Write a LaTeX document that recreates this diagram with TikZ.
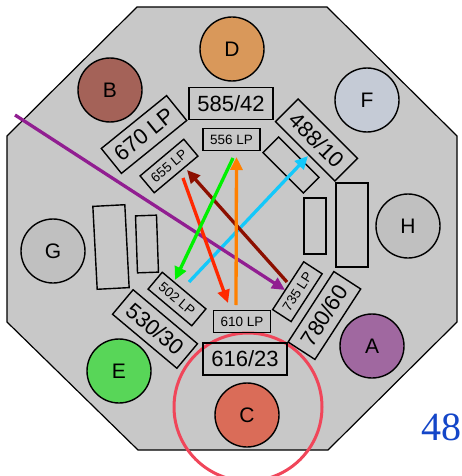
\documentclass[tikz,border=0pt]{standalone}
\usepackage{fontspec}
\setmainfont{Liberation Sans}
\newfontfamily\numserif{Liberation Serif}
\usetikzlibrary{arrows.meta}
\definecolor{plategray}{RGB}{200,200,200}
\definecolor{colD}{RGB}{217,152,90}
\definecolor{colB}{RGB}{164,98,88}
\definecolor{colF}{RGB}{197,203,214}
\definecolor{colH}{RGB}{192,192,192}
\definecolor{colG}{RGB}{192,192,192}
\definecolor{colE}{RGB}{88,214,88}
\definecolor{colC}{RGB}{218,108,88}
\definecolor{colA}{RGB}{160,104,160}
\definecolor{ringred}{RGB}{240,70,90}
\definecolor{bpurple}{RGB}{145,30,145}
\definecolor{bdarkred}{RGB}{140,15,0}
\definecolor{bred}{RGB}{255,40,0}
\definecolor{bgreen}{RGB}{0,240,0}
\definecolor{borange}{RGB}{255,128,0}
\definecolor{bcyan}{RGB}{20,200,250}
\definecolor{pageblue}{RGB}{20,70,200}
\tikzset{
  lamp/.style={circle,draw,line width=1.4pt,minimum size=64pt,inner sep=0pt,
    font=\fontsize{21}{21}\selectfont},
  filt/.style={draw,line width=1.4pt,inner sep=0pt},
  bigfilt/.style={filt,minimum width=84pt,minimum height=32pt,
    font=\fontsize{22}{22}\selectfont},
  smallfilt/.style={filt,minimum width=57pt,minimum height=22pt,
    font=\fontsize{13.5}{13.5}\selectfont},
  beam/.style={line width=3.3pt,-{Triangle[length=13pt,width=12pt]}}
}
\begin{document}
\begin{tikzpicture}[x=1pt,y=-1pt]
\useasboundingbox (0,0) rectangle (461,476);
% plate
\draw[fill=plategray,line width=1.2pt] (137,7) -- (327,7) -- (457,136) -- (457,322)
  -- (328,450) -- (138,450) -- (7,322) -- (7,136) -- cycle;
% lamps
\node[lamp,fill=colD] (d) at (232,49) {D};
\node[lamp,fill=colB] (b) at (110,90) {B};
\node[lamp,fill=colF] (f) at (367,100) {F};
\node[lamp,fill=colH] (h) at (408,226) {H};
\node[lamp,fill=colG] (g) at (53,251) {G};
\node[lamp,fill=colE] (e) at (119,371) {E};
\node[lamp,fill=colC] (c) at (247,415) {C};
\node[lamp,fill=colA] (a) at (372,346) {A};
\draw[ringred,line width=3pt] (248,407) circle[radius=74];
% filters
\node[bigfilt] (f585) at (231,103.5) {585/42};
\node[smallfilt] (f556) at (231.5,139.5) {556 LP};
\node[bigfilt,rotate=39] (f670) at (144,134.5) {670 LP};
\node[smallfilt,rotate=40] (f655) at (169,166) {655 LP};
\node[bigfilt,rotate=-45] (f488) at (316.5,140) {488/10};
\node[smallfilt,rotate=-45] (blank1) at (291,165) {};
\node[filt,minimum width=22pt,minimum height=56pt] (rsmall) at (315,226) {};
\node[filt,minimum width=32pt,minimum height=84pt] (rbig) at (352,225) {};
\node[filt,minimum width=32pt,minimum height=83pt,rotate=3] (lbig) at (111,247) {};
\node[filt,minimum width=21pt,minimum height=57pt,rotate=2] (lsmall) at (147,244) {};
\node[smallfilt,rotate=-40] (f502) at (177,299) {502 LP};
\node[bigfilt,rotate=-40] (f530) at (155,329) {530/30};
\node[smallfilt] (f610) at (242,321.7) {610 LP};
\node[bigfilt] (f616) at (245,359) {616/23};
\node[smallfilt,rotate=57] (f735) at (297.4,291.7) {735 LP};
\node[bigfilt,rotate=57] (f780) at (324.4,315.5) {780/60};
% beam ends
\coordinate (purIn) at (15,115);
\coordinate (purOut) at (285,290);
\coordinate (drIn) at (287,282);
\coordinate (drOut) at (187,170);
\coordinate (redIn) at (183,178);
\coordinate (redOut) at (228,303);
\coordinate (grnIn) at (233,158);
\coordinate (grnOut) at (175,280);
\coordinate (orgIn) at (236,305);
\coordinate (orgOut) at (236.5,157);
\coordinate (cyIn) at (189,282);
\coordinate (cyOut) at (308,156);
\draw[beam,bcyan] (cyIn) -- (cyOut);
\draw[beam,bpurple] (purIn) -- (purOut);
\draw[beam,bdarkred] (drIn) -- (drOut);
\draw[beam,bred] (redIn) -- (redOut);
\draw[beam,bgreen] (grnIn) -- (grnOut);
\draw[beam,borange] (orgIn) -- (orgOut);
% page number
\node[pageblue,font=\numserif\fontsize{40}{40}\selectfont] (pnum) at (441,427) {48};
\end{tikzpicture}
\end{document}
